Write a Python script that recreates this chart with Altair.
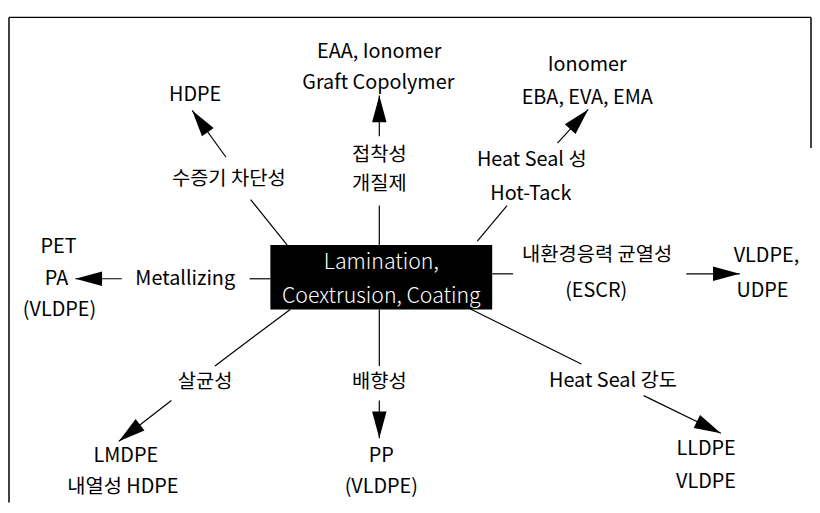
import math
import altair as alt
import pandas as pd

# ---- diagram content (page pixel coordinates) ----
labels = ["HDPE", "수증기 차단성",
          "EAA, Ionomer", "Graft Copolymer", "접착성", "개질제",
          "Ionomer", "EBA, EVA, EMA", "Heat Seal 성", "Hot-Tack",
          "내환경응력 균열성", "(ESCR)", "VLDPE,", "UDPE",
          "Heat Seal 강도", "LLDPE", "VLDPE",
          "배향성", "PP", "(VLDPE)",
          "살균성", "LMDPE", "내열성 HDPE",
          "Metallizing", "PET", "PA", "(VLDPE)"]
label_x = [197, 231,
           383, 382, 383, 383,
           593, 593, 537, 536,
           603, 602, 774, 770,
           619, 713, 713,
           383, 385, 385,
           207, 127, 124,
           187, 59, 57, 60]
label_y = [93, 178,
           50, 81, 154, 183,
           63, 96, 159, 193,
           255, 291, 256, 291,
           382, 451, 484,
           383, 458, 489,
           383, 458, 489,
           279, 247, 279, 311]

center_lines = ["Lamination,", "Coextrusion, Coating"]
center_line_y = [263, 297]
center_x = 385
box_x = [273, 497]
box_y = [245, 310]

# connector lines from the box to each property label
conn_x1 = [290, 383, 482, 497, 470, 383, 293, 273]
conn_y1 = [245, 245, 241, 274, 307, 310, 310, 279]
conn_x2 = [253, 383, 512, 518, 587, 383, 217, 252]
conn_y2 = [199, 205, 205, 274, 365, 367, 367, 279]

# arrows from each property label to its materials (end = arrow tip)
arr_x1 = [228, 383, 563, 693, 650, 383, 173, 123]
arr_y1 = [156, 135, 142, 274, 397, 402, 402, 279]
arr_x2 = [194, 383, 594, 747, 728, 383, 120, 76]
arr_y2 = [109, 94, 108, 274, 435, 440, 443, 279]

# outer frame pieces
frame_x1 = [9, 9, 819]
frame_y1 = [15, 15, 15]
frame_x2 = [819, 9, 819]
frame_y2 = [15, 505, 147]

# ---- tables ----
text_df = pd.DataFrame({"label": labels, "x": label_x, "y": label_y})
center_df = pd.DataFrame({"label": center_lines, "x": [center_x] * 2, "y": center_line_y})
box_df = pd.DataFrame({"x": [box_x[0]], "x2": [box_x[1]], "y": [box_y[0]], "y2": [box_y[1]]})
conn_df = pd.DataFrame({"x": conn_x1, "y": conn_y1, "x2": conn_x2, "y2": conn_y2})
arr_df = pd.DataFrame({"x": arr_x1, "y": arr_y1, "x2": arr_x2, "y2": arr_y2})
arr_df["angle"] = [
    (math.degrees(math.atan2(x2 - x1, -(y2 - y1))) + 360) % 360
    for x1, y1, x2, y2 in zip(arr_x1, arr_y1, arr_x2, arr_y2)
]
frame_df = pd.DataFrame({"x": frame_x1, "y": frame_y1, "x2": frame_x2, "y2": frame_y2})

W, H = 804, 497
xs = alt.Scale(domain=[8, 8 + W], nice=False, zero=False)
ys = alt.Scale(domain=[8, 8 + H], nice=False, zero=False, reverse=True)
FONT = "Noto Sans CJK KR"


def seg(df, width):
    return alt.Chart(df).mark_rule(color="black", strokeWidth=width).encode(
        x=alt.X("x:Q", scale=xs, axis=None),
        y=alt.Y("y:Q", scale=ys, axis=None),
        x2="x2:Q",
        y2="y2:Q",
    )


frame = seg(frame_df, 1.5)
conns = seg(conn_df, 1.2)
shafts = seg(arr_df, 1.2)

heads = alt.Chart(arr_df).mark_point(
    shape="M0,0 L0.27,1 L-0.27,1 Z", filled=True, color="black",
    opacity=1, size=2916, strokeWidth=0
).encode(
    x=alt.X("x2:Q", scale=xs, axis=None),
    y=alt.Y("y2:Q", scale=ys, axis=None),
    angle=alt.Angle("angle:Q", scale=None),
)

box = alt.Chart(box_df).mark_rect(color="black").encode(
    x=alt.X("x:Q", scale=xs, axis=None),
    x2="x2:Q",
    y=alt.Y("y:Q", scale=ys, axis=None),
    y2="y2:Q",
)

center_text = alt.Chart(center_df).mark_text(
    font=FONT, fontSize=21.5, color="white", align="center", baseline="middle", fontWeight=300
).encode(
    x=alt.X("x:Q", scale=xs, axis=None),
    y=alt.Y("y:Q", scale=ys, axis=None),
    text="label:N",
)

texts = alt.Chart(text_df).mark_text(
    font=FONT, fontSize=20, color="black", align="center", baseline="middle"
).encode(
    x=alt.X("x:Q", scale=xs, axis=None),
    y=alt.Y("y:Q", scale=ys, axis=None),
    text="label:N",
)

chart = alt.layer(frame, conns, shafts, heads, box, center_text, texts).properties(
    width=W, height=H,
    autosize=alt.AutoSizeParams(type="none"),
    padding={"left": 0, "top": 0, "right": 8, "bottom": 0},
    background="white",
).configure_view(stroke=None)

chart.save("out.html", embed_options={"renderer": "svg", "actions": False})
